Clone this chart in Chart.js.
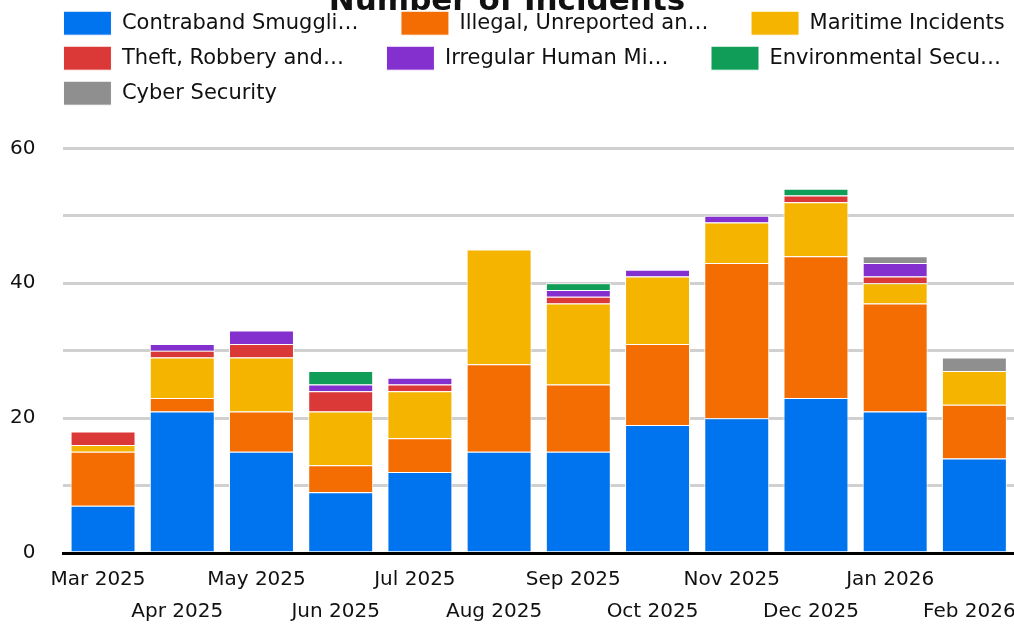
<!DOCTYPE html>
<html>
<head>
<meta charset="utf-8">
<script src="https://cdn.jsdelivr.net/npm/chart.js@4/dist/chart.umd.min.js"></script>
<style>
  html, body { margin: 0; padding: 0; background: #fff; }
  #wrap { width: 1014px; height: 628px; }
</style>
</head>
<body>
<div id="wrap"><canvas id="myChart"></canvas></div>
<script>
var months = ['Mar 2025', 'Apr 2025', 'May 2025', 'Jun 2025', 'Jul 2025', 'Aug 2025',
  'Sep 2025', 'Oct 2025', 'Nov 2025', 'Dec 2025', 'Jan 2026', 'Feb 2026'];

var contraband = [7, 21, 15, 9, 12, 15, 15, 19, 20, 23, 21, 14];
var illegalFishing = [8, 2, 6, 4, 5, 13, 10, 12, 23, 21, 16, 8];
var maritime = [1, 6, 8, 8, 7, 17, 12, 10, 6, 8, 3, 5];
var theft = [2, 1, 2, 3, 1, 0, 1, 0, 0, 1, 1, 0];
var migration = [0, 1, 2, 1, 1, 0, 1, 1, 1, 0, 2, 0];
var environmental = [0, 0, 0, 2, 0, 0, 1, 0, 0, 1, 0, 0];
var cyber = [0, 0, 0, 0, 0, 0, 0, 0, 0, 0, 1, 2];

var seriesNames = ['Contraband Smuggli…', 'Illegal, Unreported an…', 'Maritime Incidents',
  'Theft, Robbery and…', 'Irregular Human Mi…', 'Environmental Secu…', 'Cyber Security'];
var seriesColors = ['#0073ef', '#f46d02', '#f4b400', '#db3937', '#8430ce', '#0f9d58', '#8f8f8f'];
var seriesData = [contraband, illegalFishing, maritime, theft, migration, environmental, cyber];

var yTicks = [0, 20, 40, 60];

// stagger month labels on two rows
var xLabels = months.map(function (m, i) {
  return i % 2 === 0 ? [m, ''] : ['', m];
});

var FONT = 'DejaVu Sans';

// line the legend up with the plot area
var legendShift = {
  id: 'legendShift',
  afterLayout: function (chart) {
    var lg = chart.legend;
    var d = chart.chartArea.left - lg.left - lg.options.labels.padding;
    lg.left += d;
    lg.right += d;
  }
};

var ctx = document.getElementById('myChart').getContext('2d');
new Chart(ctx, {
  type: 'bar',
  data: {
    labels: xLabels,
    datasets: seriesData.map(function (d, i) {
      return {
        label: seriesNames[i],
        data: d,
        backgroundColor: seriesColors[i],
        borderColor: '#ffffff',
        borderWidth: 1,
        borderSkipped: 'start',
        categoryPercentage: 0.82,
        barPercentage: 1
      };
    })
  },
  options: {
    responsive: true,
    maintainAspectRatio: false,
    animation: false,
    layout: { padding: 0 },
    plugins: {
      title: {
        display: true,
        text: 'Number of Incidents',
        color: '#111',
        font: { family: FONT, size: 31, weight: 'bold' },
        padding: { top: -17, bottom: -20 }
      },
      subtitle: {
        display: true,
        text: '',
        weight: 500,
        font: { size: 1 },
        padding: { top: 0, bottom: 32 }
      },
      legend: {
        position: 'top',
        align: 'start',
        labels: {
          boxWidth: 48,
          boxHeight: 24,
          padding: 11,
          color: '#111',
          font: { family: FONT, size: 21 },
          generateLabels: function (chart) {
            var items = Chart.defaults.plugins.legend.labels.generateLabels(chart);
            items.forEach(function (it) { it.text = it.text + '\u2002\u2002\u2002'; });
            return items;
          }
        }
      },
      tooltip: { enabled: false }
    },
    scales: {
      x: {
        stacked: true,
        grid: { display: false, drawTicks: false },
        border: { display: true, color: '#000', width: 3 },
        ticks: {
          autoSkip: false,
          maxRotation: 0,
          minRotation: 0,
          padding: 11,
          labelOffset: -5,
          color: '#111',
          font: { family: FONT, size: 20, lineHeight: 1.6 }
        },
        afterFit: function (s) {
          s.paddingLeft = 0;
          s.paddingRight = 0;
          s.height -= s.options.ticks.padding;
        }
      },
      y: {
        stacked: true,
        min: yTicks[0],
        max: yTicks[yTicks.length - 1],
        grid: { color: '#d0d0d0', lineWidth: 3, drawTicks: false },
        border: { display: false },
        ticks: {
          stepSize: 10,
          padding: 28,
          color: '#111',
          font: { family: FONT, size: 20 },
          callback: function (v) { return yTicks.indexOf(v) >= 0 ? v : ''; }
        },
        afterFit: function (s) {
          s.width += 10 - s.options.ticks.padding;
        }
      }
    }
  },
  plugins: [legendShift]
});
</script>
</body>
</html>
